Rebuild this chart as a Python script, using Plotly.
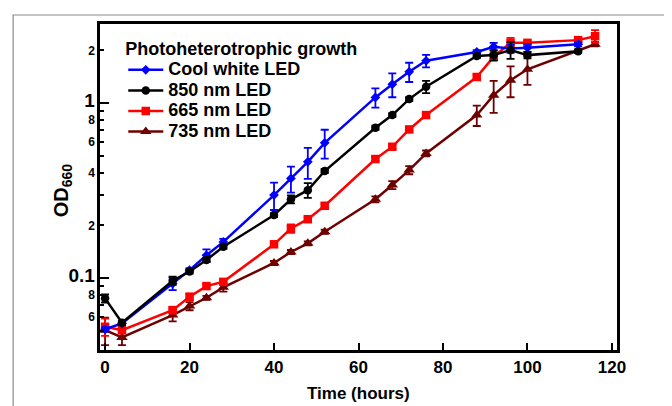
import plotly.graph_objects as go

# ---- data ----
t_white = [0, 4, 16, 20, 24, 28, 40, 44, 48, 52, 64, 68, 72, 76, 88, 92, 96, 100, 112]
od_white = [0.051, 0.055, 0.093, 0.111, 0.135, 0.161, 0.298, 0.371, 0.462, 0.593,
            1.078, 1.28, 1.51, 1.745, 1.96, 2.10, 2.05, 2.07, 2.17]
sd_white = [0.0014, 0.001, 0.0076, 0.003, 0.011, 0.0065, 0.053, 0.063, 0.093, 0.111,
            0.136, 0.20, 0.19, 0.143, 0.05, 0.11, 0.11, 0.11, 0.06]

t_850 = [0, 4, 16, 20, 24, 28, 40, 44, 48, 52, 64, 68, 72, 76, 88, 92, 96, 100, 112]
od_850 = [0.0766, 0.0556, 0.0966, 0.109, 0.127, 0.151, 0.229, 0.282, 0.318, 0.409,
          0.723, 0.854, 1.054, 1.24, 1.86, 1.88, 2.01, 1.88, 1.98]
sd_850 = [0.0041, 0.0015, 0.0052, 0.003, 0.0034, 0.004, 0.006, 0.015, 0.031, 0.011,
          0.019, 0.023, 0.028, 0.10, 0.05, 0.13, 0.22, 0.08, 0.05]

t_665 = [0, 4, 16, 20, 24, 28, 40, 44, 48, 52, 64, 68, 72, 76, 88, 92, 96, 100, 112, 116]
od_665 = [0.0527, 0.0504, 0.0656, 0.0782, 0.090, 0.0952, 0.156, 0.192, 0.217, 0.259,
          0.479, 0.563, 0.707, 0.854, 1.41, 1.84, 2.21, 2.21, 2.29, 2.41]
sd_665 = [0.0059, 0.002, 0.0027, 0.0032, 0.0024, 0.0025, 0.004, 0.0104, 0.0058, 0.007,
          0.013, 0.015, 0.019, 0.023, 0.038, 0.05, 0.15, 0.06, 0.06, 0.2]

t_735 = [0, 4, 16, 20, 24, 28, 40, 44, 48, 52, 64, 68, 72, 76, 88, 92, 96, 100, 116]
od_735 = [0.0504, 0.0458, 0.0615, 0.0692, 0.0772, 0.0885, 0.122, 0.141, 0.158, 0.184,
          0.282, 0.34, 0.414, 0.516, 0.854, 1.11, 1.35, 1.56, 2.17]
sd_735 = [0.009, 0.0044, 0.005, 0.0037, 0.002, 0.0048, 0.0032, 0.0037, 0.0042, 0.0049,
          0.011, 0.018, 0.022, 0.02, 0.114, 0.23, 0.27, 0.29, 0.06]

x_ticks = [0, 20, 40, 60, 80, 100, 120]
y_tickvals = [0.05, 0.06, 0.07, 0.08, 0.09, 0.1, 0.2, 0.3, 0.4, 0.5, 0.6, 0.7, 0.8, 0.9, 1, 2]
y_ticktext = ["", "6", "", "8", "", "<span style='font-size:19px'>0.1</span>", "2", "", "4", "",
              "6", "", "8", "", "<span style='font-size:19px'>1</span>", "2"]
y_major = [0.1, 1]

legend_title = "Photoheterotrophic growth"

FONT = "Arial, Liberation Sans, sans-serif"


def big(s):
    # legend rows in the reference are packed tighter than the text size
    return "<span style='font-size:18px'>" + s + "</span>"


series = [
    # name, t, od, sd, color, symbol, size, legendrank
    ("735 nm LED", t_735, od_735, sd_735, "#6e0000", "triangle-up", 10, 4),
    ("665 nm LED", t_665, od_665, sd_665, "#ff0000", "square", 8.5, 3),
    ("Cool white LED", t_white, od_white, sd_white, "#0000ff", "diamond", 7.5, 1),
    ("850 nm LED", t_850, od_850, sd_850, "#000000", "circle", 8.5, 2),
]

fig = go.Figure()
for name, t, od, sd, col, sym, sz, rank in series:
    fig.add_trace(go.Scatter(
        x=t, y=od, name=big(name), mode="lines+markers",
        line=dict(color=col, width=2.5),
        marker=dict(color=col, symbol=sym, size=sz),
        error_y=dict(type="data", array=sd, visible=True, color=col,
                     thickness=1.8, width=4),
        legendrank=rank,
    ))

# invisible helper trace to draw the longer decade ticks on a twin axis
fig.add_trace(go.Scatter(x=[None], y=[None], yaxis="y2", showlegend=False,
                         hoverinfo="skip"))

# page body has an 8px margin, so the figure is sized and offset to fit
fig.update_layout(
    width=664, height=398,
    margin=dict(l=92, r=55, t=16, b=56),
    paper_bgcolor="white", plot_bgcolor="white",
    font=dict(family=FONT, color="black"),
    showlegend=True,
    legend=dict(
        x=0.045, y=0.96, xanchor="left", yanchor="top",
        bgcolor="rgba(0,0,0,0)",
        font=dict(size=13.5, family=FONT, weight="bold", color="black"),
        title=dict(text=big(legend_title),
                   font=dict(size=13.5, family=FONT, weight="bold", color="black")),
        itemwidth=35, tracegroupgap=0,
    ),
    xaxis=dict(
        range=[-1.2, 121.2], tickvals=x_ticks,
        ticks="inside", ticklen=7, tickwidth=2, tickcolor="black",
        tickfont=dict(size=17, family=FONT, weight="bold", color="black"),
        showline=True, linecolor="black", linewidth=2.5, mirror=True,
        showgrid=False, zeroline=False,
    ),
    yaxis=dict(
        type="log", range=[-1.411, 0.452],
        tickvals=y_tickvals, ticktext=y_ticktext,
        ticks="inside", ticklen=4, tickwidth=2, tickcolor="black",
        tickfont=dict(size=12, family=FONT, weight="bold", color="black"),
        showline=True, linecolor="black", linewidth=2.5, mirror=True,
        showgrid=False, zeroline=False,
    ),
    yaxis2=dict(
        type="log", range=[-1.411, 0.452], overlaying="y", side="left",
        tickvals=y_major, ticks="inside", ticklen=9, tickwidth=2,
        tickcolor="black", showticklabels=False, showline=False,
        showgrid=False, zeroline=False,
    ),
    annotations=[
        dict(text="OD<sub>660</sub>", xref="paper", yref="paper",
             x=-0.0735, y=0.49, xanchor="center", yanchor="middle",
             textangle=-90, showarrow=False,
             font=dict(size=20, family=FONT, weight="bold", color="black")),
        dict(text="Time (hours)", xref="paper", yref="paper",
             x=0.5, y=-0.132, xanchor="center", yanchor="middle",
             showarrow=False,
             font=dict(size=17, family=FONT, weight="bold", color="black")),
    ],
    shapes=[
        dict(type="rect", xref="paper", yref="paper",
             x0=-0.168, x1=1.0967, y0=-0.25, y1=1.0276,
             line=dict(color="#8a8a8a", width=1.2), layer="below"),
    ],
)

fig.write_html("out.html")
